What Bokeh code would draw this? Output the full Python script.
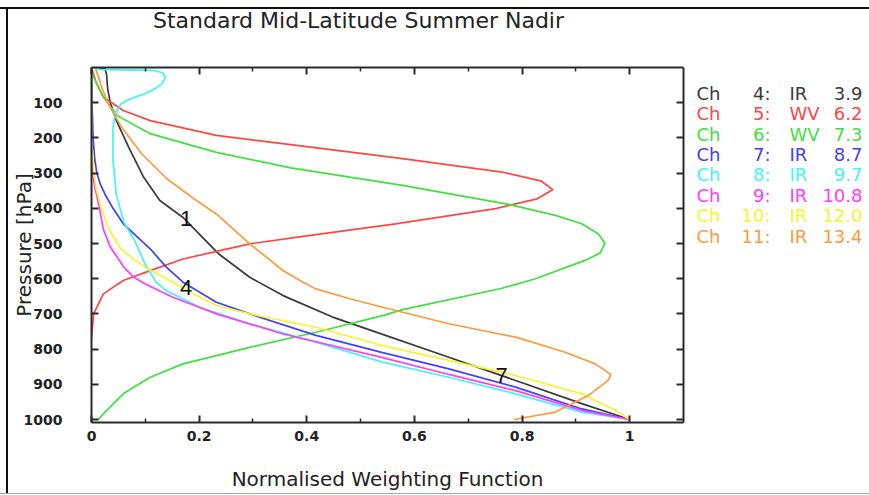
from bokeh.plotting import figure
from bokeh.models import Range1d, LinearAxis, FixedTicker, Spacer, ColumnDataSource
from bokeh.layouts import row, column
from bokeh.core.properties import value
from bokeh.embed import file_html
from bokeh.resources import INLINE

# Normalised weighting functions (weight vs pressure in hPa) per SEVIRI channel
ch4_p = [0, 3, 20, 60, 100, 150, 226, 312, 378, 426, 470, 529, 596, 648, 709, 758, 823, 889, 955, 1000]
ch4_w = [0.0, 0.025, 0.028, 0.030, 0.035, 0.046, 0.069, 0.097, 0.127, 0.170, 0.198, 0.236, 0.294, 0.356, 0.448, 0.541, 0.664, 0.788, 0.911, 1.0]

ch5_p = [0, 40, 84, 122, 151, 193, 222, 259, 297, 323, 347, 373, 401, 444, 480, 501, 544, 577, 605, 643, 700, 770]
ch5_w = [0.0, 0.008, 0.022, 0.059, 0.109, 0.232, 0.385, 0.578, 0.763, 0.836, 0.857, 0.828, 0.751, 0.565, 0.393, 0.294, 0.170, 0.109, 0.059, 0.022, 0.004, 0.0]

ch6_p = [0, 27, 84, 136, 188, 241, 285, 335, 389, 420, 444, 473, 499, 527, 548, 600, 627, 688, 705, 752, 795, 842, 880, 927, 984, 1000]
ch6_w = [0.0, 0.004, 0.022, 0.047, 0.109, 0.232, 0.370, 0.578, 0.775, 0.862, 0.911, 0.942, 0.954, 0.945, 0.917, 0.825, 0.763, 0.578, 0.541, 0.417, 0.294, 0.170, 0.109, 0.059, 0.022, 0.013]

ch7_p = [0, 100, 200, 260, 300, 330, 360, 400, 444, 515, 567, 610, 667, 700, 761, 810, 856, 908, 970, 1000]
ch7_w = [0.0, 0.001, 0.003, 0.006, 0.010, 0.016, 0.025, 0.040, 0.059, 0.109, 0.139, 0.170, 0.232, 0.294, 0.417, 0.541, 0.664, 0.788, 0.911, 1.0]

ch8_p = [0, 6, 8, 15, 27, 45, 60, 75, 90, 103, 130, 170, 264, 359, 440, 491, 560, 610, 634, 681, 728, 780, 837, 880, 927, 979, 1000]
ch8_w = [0.0, 0.02, 0.115, 0.132, 0.137, 0.132, 0.118, 0.098, 0.070, 0.055, 0.044, 0.040, 0.040, 0.046, 0.060, 0.080, 0.100, 0.120, 0.139, 0.201, 0.294, 0.417, 0.541, 0.664, 0.788, 0.911, 1.0]

ch9_p = [0, 200, 300, 340, 365, 410, 460, 510, 567, 595, 615, 652, 681, 700, 757, 824, 872, 918, 974, 1000]
ch9_w = [0.0, 0.0, 0.002, 0.006, 0.010, 0.016, 0.022, 0.035, 0.060, 0.078, 0.100, 0.150, 0.200, 0.232, 0.356, 0.541, 0.664, 0.788, 0.911, 1.0]

ch10_p = [0, 200, 293, 340, 387, 444, 480, 515, 545, 572, 605, 640, 676, 700, 738, 790, 832, 875, 927, 974, 1000]
ch10_w = [0.0, 0.0, 0.004, 0.008, 0.016, 0.028, 0.040, 0.055, 0.078, 0.105, 0.145, 0.185, 0.232, 0.294, 0.417, 0.541, 0.664, 0.788, 0.911, 0.973, 1.0]

ch11_p = [0, 27, 56, 103, 170, 245, 316, 378, 416, 501, 577, 610, 629, 657, 681, 728, 766, 809, 842, 872, 889, 932, 979, 1000]
ch11_w = [0.007, 0.013, 0.019, 0.031, 0.056, 0.093, 0.140, 0.195, 0.232, 0.294, 0.356, 0.393, 0.417, 0.480, 0.541, 0.664, 0.788, 0.880, 0.936, 0.965, 0.960, 0.923, 0.862, 0.785]

# Legend entries
chan_num = ["4", "5", "6", "7", "8", "9", "10", "11"]
chan_band = ["IR", "WV", "WV", "IR", "IR", "IR", "IR", "IR"]
chan_wave = ["3.9", "6.2", "7.3", "8.7", "9.7", "10.8", "12.0", "13.4"]

# Markers written on the chart
marker_text = ["1", "4", "7"]
marker_w = [0.176, 0.176, 0.762]
marker_p = [429, 625, 875]

TITLE = "Standard Mid-Latitude Summer Nadir"

profiles = [(ch4_w, ch4_p), (ch5_w, ch5_p), (ch6_w, ch6_p), (ch7_w, ch7_p),
            (ch8_w, ch8_p), (ch9_w, ch9_p), (ch10_w, ch10_p), (ch11_w, ch11_p)]
colors = ["#3a3a3a", "#ff4545", "#3fe03f", "#4040ff", "#3ff5f5", "#ff3cff", "#f5f530", "#ff9a3c"]

FONT = "DejaVu Sans"
INK = "#222222"
AXIS_COLOR = "#2a2a2a"
TITLE_H = 30
BODY_H = 454
BORDER_TOP, BORDER_BOTTOM = 28, 71

p = figure(width=682, height=BODY_H, output_backend="svg", toolbar_location=None,
           x_range=Range1d(0, 1.1), y_range=Range1d(1008.5, 0),
           min_border_left=80, min_border_right=7,
           min_border_top=BORDER_TOP, min_border_bottom=BORDER_BOTTOM,
           x_axis_location=None, y_axis_location=None)
p.grid.visible = False
p.outline_line_color = None

x_ticks = FixedTicker(ticks=[0, 0.2, 0.4, 0.6, 0.8, 1.0], minor_ticks=[0.1, 0.3, 0.5, 0.7, 0.9])
y_ticks = FixedTicker(ticks=[100, 200, 300, 400, 500, 600, 700, 800, 900, 1000], minor_ticks=[])


def style_axis(ax):
    ax.axis_line_color = AXIS_COLOR
    ax.axis_line_width = 2
    ax.major_tick_in = 7
    ax.major_tick_out = 0
    ax.minor_tick_in = 4
    ax.minor_tick_out = 0
    ax.major_tick_line_color = AXIS_COLOR
    ax.major_tick_line_width = 2
    ax.minor_tick_line_color = AXIS_COLOR
    ax.minor_tick_line_width = 1.5
    ax.major_label_text_font = FONT
    ax.major_label_text_font_size = "14px"
    ax.major_label_text_font_style = "bold"
    ax.major_label_text_color = INK
    ax.axis_label_text_font = FONT
    ax.axis_label_text_font_style = "normal"
    ax.axis_label_text_color = INK


def ticks_only(ax):
    style_axis(ax)
    ax.major_label_text_color = None
    ax.major_label_text_font_size = "0px"
    ax.major_label_standoff = 0


bottom = LinearAxis(ticker=x_ticks, axis_label="Normalised Weighting Function")
style_axis(bottom)
bottom.axis_label_text_font_size = "20px"
bottom.major_label_standoff = 8
bottom.axis_label_standoff = 23
bottom.major_label_overrides = {0: "0", 1.0: "1"}
p.add_layout(bottom, "below")

left = LinearAxis(ticker=y_ticks, axis_label="Pressure [hPa]")
style_axis(left)
left.axis_label_text_font_size = "20px"
left.major_label_standoff = 29
left.axis_label_standoff = -15
p.add_layout(left, "left")

top = LinearAxis(ticker=x_ticks)
ticks_only(top)
p.add_layout(top, "above")

right = LinearAxis(ticker=y_ticks)
ticks_only(right)
p.add_layout(right, "right")

for (w, pr), c in zip(profiles, colors):
    p.line(w, pr, line_color=c, line_width=1.7)

p.text(x=marker_w, y=marker_p, text=marker_text, text_font=value("Liberation Sans"),
       text_font_size="22px", text_color="#111111", text_align="center", text_baseline="middle")

# Colour-coded channel legend; pixel space measured down from the top of the plot frame
LEG_W = 179
FRAME_H = BODY_H - BORDER_TOP - BORDER_BOTTOM
leg = figure(width=LEG_W, height=BODY_H, output_backend="svg", toolbar_location=None,
             x_range=Range1d(0, LEG_W), y_range=Range1d(FRAME_H, 0),
             min_border_left=0, min_border_right=0,
             min_border_top=BORDER_TOP, min_border_bottom=BORDER_BOTTOM,
             x_axis_location=None, y_axis_location=None)
leg.grid.visible = False
leg.outline_line_color = None

row_y = [25.7 + 20.4 * i for i in range(len(chan_num))]
src = ColumnDataSource(dict(y=row_y, ch=["Ch"] * len(chan_num),
                            num=[n + ":" for n in chan_num], band=chan_band,
                            wave=chan_wave, color=colors))
txt = dict(y="y", source=src, text_color="color", text_font=value(FONT),
           text_font_size="18px", text_baseline="middle")
leg.text(x=6, text="ch", text_align="left", **txt)
leg.text(x=80, text="num", text_align="right", **txt)
leg.text(x=99, text="band", text_align="left", **txt)
leg.text(x=172, text="wave", text_align="right", **txt)

# Title strip above the plot, in its own pixel space
TITLE_W = 861
head = figure(width=TITLE_W, height=TITLE_H, output_backend="svg", toolbar_location=None,
              x_range=Range1d(0, TITLE_W), y_range=Range1d(TITLE_H, 0),
              min_border=0, x_axis_location=None, y_axis_location=None)
head.grid.visible = False
head.outline_line_color = None
head.text(x=[350], y=[11], text=[TITLE], text_font=value(FONT), text_font_size="22px",
          text_color=INK, text_align="center", text_baseline="alphabetic")

# Page frame: black top and left rules, faint bottom rule
black_top = Spacer(width=869, height=2, styles={"background-color": "#111111"})
black_left = Spacer(width=2, height=TITLE_H + BODY_H, styles={"background-color": "#111111"})
grey_bottom = Spacer(width=869, height=1, styles={"background-color": "#aaaaaa"})

layout = column(Spacer(width=869, height=7), black_top,
                row(Spacer(width=6, height=TITLE_H + BODY_H), black_left,
                    column(head, row(p, leg))),
                grey_bottom)

open("out.html", "w").write(file_html(layout, INLINE))
